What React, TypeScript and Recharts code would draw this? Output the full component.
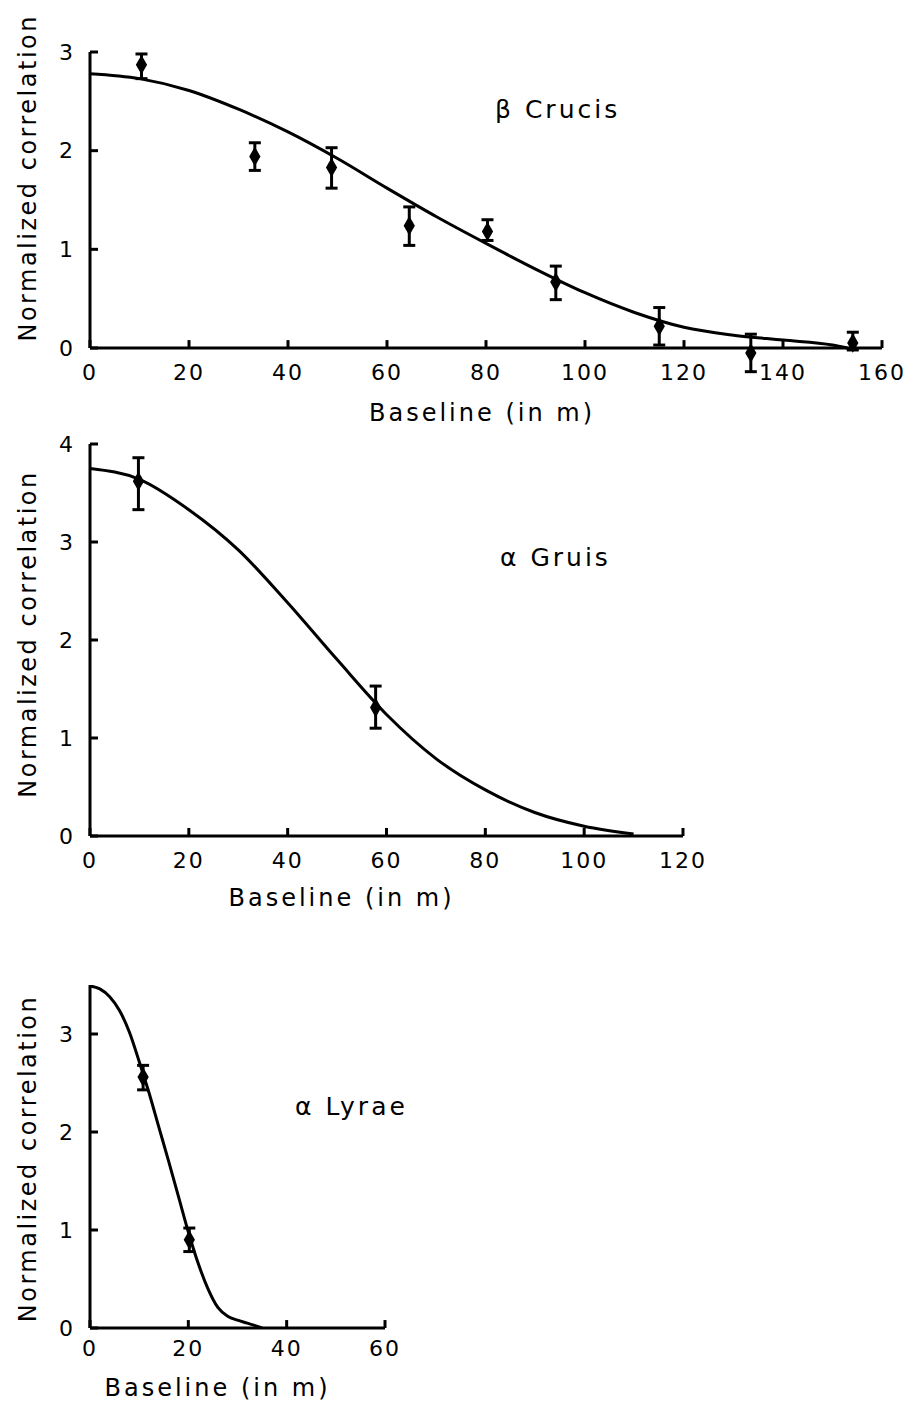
import React from 'react';
import { ComposedChart, Line, Scatter, XAxis, YAxis, ZAxis, ErrorBar, Label, ReferenceLine } from 'recharts';

const FONT = '"DejaVu Sans", sans-serif';

// ---- beta Crucis ----
const crucisX = [10.4, 33.3, 48.8, 64.5, 80.3, 94.1, 115.0, 133.5, 154.1];
const crucisY = [2.87, 1.94, 1.83, 1.24, 1.18, 0.67, 0.22, -0.05, 0.05];
const crucisLow = [2.73, 1.80, 1.62, 1.04, 1.09, 0.49, 0.03, -0.24, -0.02];
const crucisHigh = [2.98, 2.08, 2.03, 1.43, 1.30, 0.83, 0.41, 0.14, 0.16];
const crucisFitX = [0, 10, 20, 30, 40, 50, 60, 70, 80, 90, 100, 110, 120, 130, 140, 150, 153];
const crucisFitY = [2.78, 2.73, 2.61, 2.42, 2.19, 1.92, 1.62, 1.33, 1.06, 0.80, 0.56, 0.36, 0.21, 0.13, 0.08, 0.03, 0.0];
const crucisXTicks = [0, 20, 40, 60, 80, 100, 120, 140, 160];
const crucisYTicks = [0, 1, 2, 3];

// ---- alpha Gruis ----
const gruisX = [9.8, 57.8];
const gruisY = [3.62, 1.31];
const gruisLow = [3.33, 1.10];
const gruisHigh = [3.86, 1.53];
const gruisFitX = [0, 10, 20, 30, 40, 50, 60, 70, 80, 90, 100, 110];
const gruisFitY = [3.75, 3.64, 3.33, 2.92, 2.38, 1.80, 1.24, 0.79, 0.47, 0.24, 0.10, 0.02];
const gruisXTicks = [0, 20, 40, 60, 80, 100, 120];
const gruisYTicks = [0, 1, 2, 3, 4];

// ---- alpha Lyrae ----
const lyraeX = [10.8, 20.2];
const lyraeY = [2.56, 0.90];
const lyraeLow = [2.43, 0.78];
const lyraeHigh = [2.68, 1.02];
const lyraeFitX = [0, 2, 4, 6, 8, 10, 12, 14, 16, 18, 20, 22, 24, 26, 28, 30, 32, 35];
const lyraeFitY = [3.49, 3.46, 3.38, 3.24, 3.02, 2.72, 2.40, 2.05, 1.70, 1.34, 0.98, 0.66, 0.40, 0.21, 0.12, 0.08, 0.05, 0.0];
const lyraeXTicks = [0, 20, 40, 60];
const lyraeYTicks = [0, 1, 2, 3];

const xLabel = 'Baseline (in m)';
const yLabel = 'Normalized  correlation';

function makePoints(xs: number[], ys: number[], lows: number[], highs: number[]) {
  return xs.map((x, i) => ({ x, y: ys[i], err: [ys[i] - lows[i], highs[i] - ys[i]] }));
}
function makeCurve(xs: number[], ys: number[]) {
  return xs.map((x, i) => ({ x, y: ys[i] }));
}

type PanelProps = {
  top: number;
  height: number;
  marginTop: number;
  marginRight: number;
  xAxisHeight: number;
  xMax: number;
  yMin: number;
  yMax: number;
  tickLen: number;
  xTicks: number[];
  yTicks: number[];
  points: any[];
  curve: any[];
  xTickMargin: number;
  xLabelOffset: number;
  xLabelDx: number;
  yLabelDy: number;
  title: string;
  titleLeft: number;
  titleCenter: number;
};

const axisStroke = { stroke: '#000', strokeWidth: 3 };

function Panel(p: PanelProps) {
  return (
    <div style={{ position: 'absolute', left: 0, top: p.top, width: 917, height: p.height }}>
      <ComposedChart
        width={917}
        height={p.height}
        margin={{ top: p.marginTop, right: p.marginRight, left: 0, bottom: 0 }}
      >
        <XAxis
          type="number"
          dataKey="x"
          domain={[0, p.xMax]}
          allowDataOverflow
          ticks={p.xTicks}
          interval={0}
          height={p.xAxisHeight}
          tickSize={0}
          tickMargin={p.xTickMargin}
          axisLine={false}
          tickLine={false}
          tick={{ fill: '#000', fontSize: 22, fontFamily: FONT, letterSpacing: 2 }}
        >
          <Label
            value={xLabel}
            position="insideTop"
            offset={p.xLabelOffset}
            dx={p.xLabelDx}
            fill="#000"
            fontSize={24}
            fontFamily={FONT}
            style={{ letterSpacing: '3px' }}
          />
        </XAxis>
        <YAxis
          type="number"
          dataKey="y"
          domain={[p.yMin, p.yMax]}
          allowDataOverflow
          ticks={p.yTicks}
          interval={0}
          width={90}
          tickSize={-8}
          tickMargin={25}
          axisLine={false}
          tickLine={axisStroke}
          tick={{ fill: '#000', fontSize: 22, fontFamily: FONT }}
        >
          <Label
            value={yLabel}
            position="center"
            angle={-90}
            dx={-18}
            dy={p.yLabelDy}
            fill="#000"
            fontSize={24}
            fontFamily={FONT}
            style={{ letterSpacing: '2.5px' }}
          />
        </YAxis>
        <ZAxis range={[110, 110]} />
        {/* axis lines drawn through the chart scales */}
        <ReferenceLine y={0} stroke="#000" strokeWidth={3} />
        <ReferenceLine
          segment={[
            { x: 0, y: 0 },
            { x: 0, y: p.yMax },
          ]}
          stroke="#000"
          strokeWidth={3}
        />
        {p.xTicks.map((t) => (
          <ReferenceLine
            key={'xt' + t}
            segment={[
              { x: t, y: 0 },
              { x: t, y: p.tickLen },
            ]}
            stroke="#000"
            strokeWidth={3}
          />
        ))}
        <Line
          data={p.curve}
          dataKey="y"
          type="monotone"
          stroke="#000"
          strokeWidth={3}
          dot={false}
          activeDot={false}
          isAnimationActive={false}
        />
        <Scatter data={p.points} dataKey="y" fill="#000" shape="diamond" isAnimationActive={false}>
          <ErrorBar dataKey="err" direction="y" width={6} stroke="#000" strokeWidth={3} />
        </Scatter>
      </ComposedChart>
      <div
        style={{
          position: 'absolute',
          left: p.titleLeft,
          top: p.titleCenter - p.top - 15,
          lineHeight: '30px',
          fontSize: 25,
          fontFamily: FONT,
          letterSpacing: '3px',
          color: '#000',
          whiteSpace: 'nowrap',
        }}
      >
        {p.title}
      </div>
    </div>
  );
}

export default function App() {
  return (
    <div style={{ position: 'absolute', left: 0, top: 0, width: 917, height: 1407, background: '#fff' }}>
      <Panel
        top={0}
        height={440}
        marginTop={52}
        marginRight={35}
        xAxisHeight={62.4}
        xMax={160}
        yMin={-0.3}
        yMax={3}
        tickLen={0.08}
        xTicks={crucisXTicks}
        yTicks={crucisYTicks}
        points={makePoints(crucisX, crucisY, crucisLow, crucisHigh)}
        curve={makeCurve(crucisFitX, crucisFitY)}
        xTickMargin={-13}
        xLabelOffset={26}
        xLabelDx={-4}
        yLabelDy={-37}
        title="β Crucis"
        titleLeft={495}
        titleCenter={110}
      />
      <Panel
        top={420}
        height={520}
        marginTop={24}
        marginRight={234}
        xAxisHeight={104}
        xMax={120}
        yMin={0}
        yMax={4}
        tickLen={0.082}
        xTicks={gruisXTicks}
        yTicks={gruisYTicks}
        points={makePoints(gruisX, gruisY, gruisLow, gruisHigh)}
        curve={makeCurve(gruisFitX, gruisFitY)}
        xTickMargin={16}
        xLabelOffset={53}
        xLabelDx={-45}
        yLabelDy={-6}
        title="α Gruis"
        titleLeft={500}
        titleCenter={558}
      />
      <Panel
        top={940}
        height={467}
        marginTop={45}
        marginRight={532}
        xAxisHeight={79}
        xMax={60}
        yMin={0}
        yMax={3.5}
        tickLen={0.081}
        xTicks={lyraeXTicks}
        yTicks={lyraeYTicks}
        points={makePoints(lyraeX, lyraeY, lyraeLow, lyraeHigh)}
        curve={makeCurve(lyraeFitX, lyraeFitY)}
        xTickMargin={12}
        xLabelOffset={51}
        xLabelDx={-20}
        yLabelDy={2}
        title="α Lyrae"
        titleLeft={295}
        titleCenter={1107}
      />
    </div>
  );
}
